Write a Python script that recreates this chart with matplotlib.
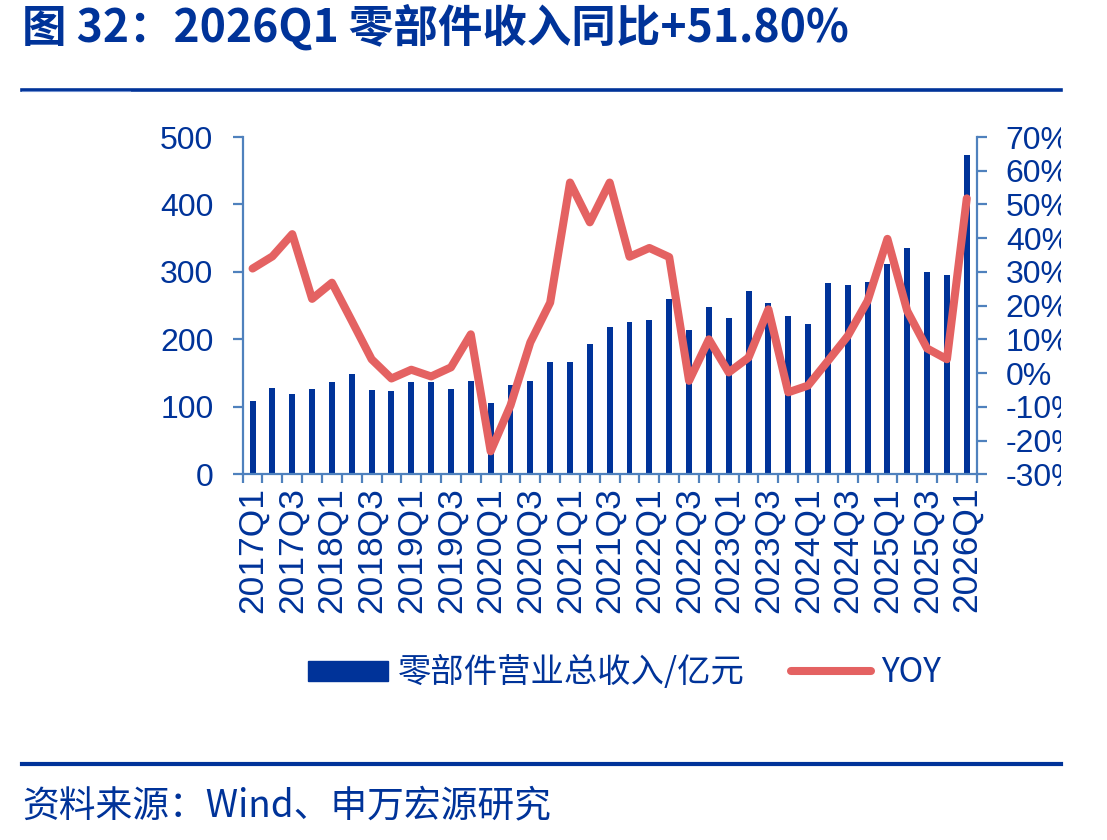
import numpy as np
import matplotlib
matplotlib.use('Agg')
import matplotlib.pyplot as plt
from matplotlib.patches import Rectangle
from matplotlib.lines import Line2D

quarters = ['2017Q1', '2017Q2', '2017Q3', '2017Q4', '2018Q1', '2018Q2', '2018Q3', '2018Q4',
            '2019Q1', '2019Q2', '2019Q3', '2019Q4', '2020Q1', '2020Q2', '2020Q3', '2020Q4',
            '2021Q1', '2021Q2', '2021Q3', '2021Q4', '2022Q1', '2022Q2', '2022Q3', '2022Q4',
            '2023Q1', '2023Q2', '2023Q3', '2023Q4', '2024Q1', '2024Q2', '2024Q3', '2024Q4',
            '2025Q1', '2025Q2', '2025Q3', '2025Q4', '2026Q1']

# 零部件营业总收入 (亿元)
revenue = [108, 128, 119, 126, 137, 149, 125, 123, 137, 137, 127, 138, 106, 132, 139, 167,
           167, 193, 218, 225, 229, 260, 214, 248, 231, 272, 254, 234, 223, 283, 281, 285,
           312, 336, 300, 296, 474]

# YOY (%)
yoy = [31.0, 34.6, 41.2, 22.0, 26.8, 15.5, 4.1, -1.6, 1.0, -1.0, 1.7, 11.5, -23.2, -9.6, 9.1, 20.9,
       56.5, 44.7, 56.5, 34.5, 37.1, 34.4, -2.3, 10.0, 0.2, 4.6, 18.9, -5.7, -3.7, 3.6, 11.0, 21.4,
       39.8, 18.4, 7.3, 4.1, 51.8]

left_ticks = [0, 100, 200, 300, 400, 500]
right_ticks = [-30, -20, -10, 0, 10, 20, 30, 40, 50, 60, 70]

title = '图 32：2026Q1 零部件收入同比+51.80%'
source = '资料来源：Wind、申万宏源研究'
bar_label = '零部件营业总收入/亿元'
line_label = 'YOY'

navy = '#003399'
spine_c = '#4F81BD'
red = '#E46262'
cjk = ['Noto Sans CJK SC', 'DejaVu Sans']

plt.rcParams['font.family'] = ['Liberation Sans', 'Noto Sans CJK SC', 'DejaVu Sans']

fig = plt.figure(figsize=(11.07, 8.4), dpi=100)
ax1 = fig.add_axes([0.2192, 0.4354, 0.6631, 0.4015])
ax2 = ax1.twinx()

x = np.arange(len(quarters))
ax1.bar(x, revenue, width=0.3, color=navy, zorder=2)
ax2.plot(x, yoy, color=red, lw=5.8, solid_capstyle='round', solid_joinstyle='round', zorder=3)

ax1.set_xlim(-0.5, len(quarters) - 0.5)
ax1.set_ylim(0, 500)
ax2.set_ylim(-30, 70)

ax1.set_yticks(left_ticks)
ax2.set_yticks(right_ticks)
ax2.set_yticklabels([f'{v}%' for v in right_ticks])

ax1.set_xticks(x[::2])
ax1.set_xticklabels(quarters[::2], rotation=90)
ax1.set_xticks(np.arange(-0.5, len(quarters)), minor=True)

for s in ['top', 'right']:
    ax1.spines[s].set_visible(False)
for s in ['top', 'left', 'bottom']:
    ax2.spines[s].set_visible(False)
for ax, s in [(ax1, 'left'), (ax1, 'bottom'), (ax2, 'right')]:
    ax.spines[s].set_color(spine_c)
    ax.spines[s].set_linewidth(1.6)

ax1.tick_params(axis='y', direction='out', length=7, width=1.6, color=spine_c,
                labelsize=23, labelcolor=navy, pad=14)
ax2.tick_params(axis='y', direction='out', length=7, width=1.6, color=spine_c,
                labelsize=23, labelcolor=navy, pad=14)
ax1.tick_params(axis='x', which='major', length=0, labelsize=25.5, labelcolor=navy, pad=9)
ax1.tick_params(axis='x', which='minor', direction='out', length=6.5, width=1.6, color=spine_c)

handles = [Rectangle((0, 0), 1, 1, color=navy),
           Line2D([0], [0], color=red, lw=5.8, solid_capstyle='round')]
fig.legend(handles, [bar_label, line_label], loc='center', bbox_to_anchor=(0.564, 0.199),
           ncol=2, frameon=False, prop={'family': cjk, 'size': 24}, labelcolor=navy,
           handlelength=2.4, handleheight=0.55, handletextpad=0.3, columnspacing=1.4)

fig.text(0.02, 0.966, title, family=cjk, fontsize=32, fontweight='bold', color=navy,
         va='center', ha='left')
fig.text(0.02, 0.041, source, family=cjk, fontsize=26.5, color=navy, va='center', ha='left')

fig.add_artist(Line2D([0.02, 0.958], [0.8925, 0.8925], color=navy, lw=2.6))
fig.add_artist(Line2D([0.02, 0.117], [0.8915, 0.8915], color='#6F8FCF', lw=0.8))
fig.add_artist(Line2D([0.02, 0.958], [0.0905, 0.0905], color=navy, lw=3.0))

# image edge clips the right-hand labels in the original
fig.add_artist(Rectangle((0.9585, 0.40), 0.05, 0.47, transform=fig.transFigure,
                         facecolor='white', edgecolor='none', zorder=10))

fig.savefig('out.png', dpi=100)
